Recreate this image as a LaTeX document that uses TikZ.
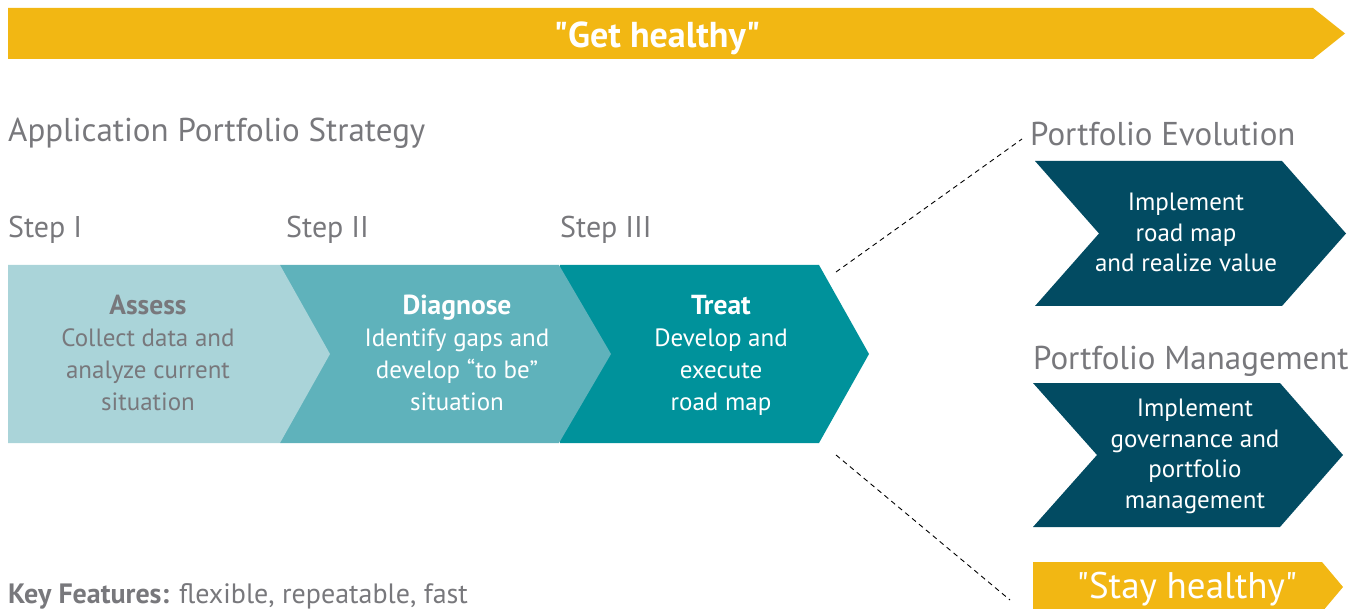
\documentclass[tikz,border=0pt]{standalone}
\usepackage{fontspec}
\setmainfont{PT Sans}
\definecolor{yel}{HTML}{F2B713}
\definecolor{cA}{HTML}{AAD4D9}
\definecolor{cB}{HTML}{5FB2BB}
\definecolor{cC}{HTML}{00929B}
\definecolor{dk}{HTML}{024B62}
\definecolor{gr}{HTML}{78787C}
\newcommand{\chevtitle}[1]{{\fontsize{27.5}{32}\selectfont\bfseries #1}}
\tikzset{
  txt/.style={inner sep=0pt, align=center},
  head/.style={txt, text=gr, font=\fontsize{33}{40}\selectfont},
  steplbl/.style={txt, text=gr, font=\fontsize{30}{36}\selectfont, anchor=base west},
  body/.style={txt, font=\fontsize{25}{32}\selectfont},
  rbody/.style={txt, text=white, font=\fontsize{25}{30.5}\selectfont},
  conn/.style={draw=black, line width=0.9pt, dash pattern=on 5pt off 4pt},
}
\begin{document}
\begin{tikzpicture}[x=1pt,y=-1pt]
\useasboundingbox (0,0) rectangle (1362,609);
\clip (0,0) rectangle (1362,609);
% top banner
\fill[yel] (8,8) -- (1313,8) -- (1345,33.5) -- (1313,59) -- (8,59) -- cycle;
\node[txt, text=white, font=\fontsize{36}{40}\selectfont\bfseries, anchor=base] (get) at (657,48) {\textquotedbl Get healthy\textquotedbl};
% title and steps
\node[head, anchor=base west] (aps) at (8,142) {Application Portfolio Strategy};
\node[steplbl] (s1) at (8,238) {Step I};
\node[steplbl] (s2) at (286,238) {Step II};
\node[steplbl] (s3) at (560,238) {Step III};
% chevrons
\fill[cC] (560,265) -- (819,265) -- (869,354) -- (819,443) -- (560,443) -- cycle;
\fill[cB] (280,265) -- (559,265) -- (611,354) -- (559,443) -- (280,443) -- cycle;
\fill[cA] (8,265) -- (280,265) -- (330,354) -- (280,443) -- (8,443) -- cycle;
\node[body, text=gr, anchor=base] (assess) at (148,410) {\chevtitle{Assess}\\Collect data and\\analyze current\\situation};
\node[body, text=white, anchor=base] (diag) at (457,410) {\chevtitle{Diagnose}\\Identify gaps and\\develop “to be”\\situation};
\node[body, text=white, anchor=base] (treat) at (721,410) {\chevtitle{Treat}\\Develop and\\execute\\road map};
% connectors
\coordinate (c1a) at (836,272);
\coordinate (c1b) at (1022,139);
\coordinate (c2a) at (836,455);
\coordinate (c2b) at (1010,600);
\draw[conn] (c1a) -- (c1b);
\draw[conn] (c2a) -- (c2b);
% right side
\node[head, anchor=base west] (pe) at (1030,146) {Portfolio Evolution};
\fill[dk] (1035,161) -- (1282,161) -- (1346,233.5) -- (1282,306) -- (1035,306) -- (1099,233.5) -- cycle;
\node[rbody, anchor=base] (pet) at (1186,272) {Implement\\road map\\and realize value};
\node[head, anchor=base west] (pm) at (1033,369) {Portfolio Management};
\fill[dk] (1033,383) -- (1280,383) -- (1343,455) -- (1280,527) -- (1033,527) -- (1097,455) -- cycle;
\node[rbody, anchor=base] (pmt) at (1195,508) {Implement\\governance and\\portfolio\\management};
\fill[yel] (1033,562) -- (1322,562) -- (1343,587) -- (1322,612) -- (1033,612) -- cycle;
\node[txt, text=white, font=\fontsize{37}{40}\selectfont, anchor=base] (stay) at (1187,598) {\textquotedbl Stay healthy\textquotedbl};
% key features
\node[txt, text=gr, font=\fontsize{28}{32}\selectfont, anchor=base west] (kf) at (8,603) {\textbf{Key Features:} flexible, repeatable, fast};
\end{tikzpicture}
\end{document}
